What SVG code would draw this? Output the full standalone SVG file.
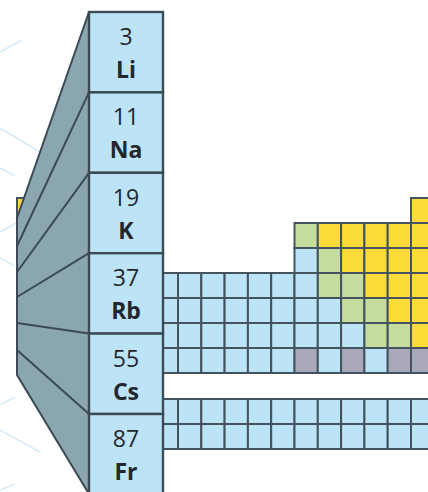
<svg xmlns="http://www.w3.org/2000/svg" width="428" height="492" viewBox="0 0 428 492">
<style>
.bg{stroke:#d8ecf8;stroke-width:1.6;fill:none}
.b{fill:#bde3f7;stroke:#44545e;stroke-width:2}
.g{fill:#c6dc9c;stroke:#44545e;stroke-width:2}
.y{fill:#fddc3a;stroke:#44545e;stroke-width:2}
.k{fill:#a9a8b8;stroke:#44545e;stroke-width:2}
.cell{fill:#bde3f7;stroke:#3b4a55;stroke-width:2.4}
.fan{fill:#8aa6b0;stroke:#3b4a55;stroke-width:2;stroke-linejoin:round}
.ln{stroke:#3b4a55;stroke-width:2;fill:none}
.num{font-family:"Open Sans","Noto Sans",sans-serif;font-size:23px;fill:#22272b;text-anchor:middle}
.sym{font-family:"Open Sans","Noto Sans",sans-serif;font-size:23px;font-weight:bold;fill:#22272b;text-anchor:middle}
</style>
<rect width="428" height="492" fill="#ffffff"/>
<g id="background">
<path class="bg" d="M0,52 L22,40 M0,128 L40,152 M0,168 L15,176 M0,232 L22,220 M0,258 L15,266 M0,405 L15,397 M0,430 L40,452 M0,490 L15,484"/>
</g>
<g id="table">
<rect class="y" x="411" y="198" width="23.3" height="25"/>
<rect class="g" x="294.5" y="223" width="23.3" height="25"/>
<rect class="y" x="317.8" y="223" width="23.3" height="25"/>
<rect class="y" x="341.1" y="223" width="23.3" height="25"/>
<rect class="y" x="364.4" y="223" width="23.3" height="25"/>
<rect class="y" x="387.7" y="223" width="23.3" height="25"/>
<rect class="y" x="411" y="223" width="23.3" height="25"/>
<rect class="b" x="294.5" y="248" width="23.3" height="25"/>
<rect class="g" x="317.8" y="248" width="23.3" height="25"/>
<rect class="y" x="341.1" y="248" width="23.3" height="25"/>
<rect class="y" x="364.4" y="248" width="23.3" height="25"/>
<rect class="y" x="387.7" y="248" width="23.3" height="25"/>
<rect class="y" x="411" y="248" width="23.3" height="25"/>
<rect class="b" x="154.7" y="273" width="23.3" height="25"/>
<rect class="b" x="178" y="273" width="23.3" height="25"/>
<rect class="b" x="201.3" y="273" width="23.3" height="25"/>
<rect class="b" x="224.6" y="273" width="23.3" height="25"/>
<rect class="b" x="247.9" y="273" width="23.3" height="25"/>
<rect class="b" x="271.2" y="273" width="23.3" height="25"/>
<rect class="b" x="294.5" y="273" width="23.3" height="25"/>
<rect class="g" x="317.8" y="273" width="23.3" height="25"/>
<rect class="g" x="341.1" y="273" width="23.3" height="25"/>
<rect class="y" x="364.4" y="273" width="23.3" height="25"/>
<rect class="y" x="387.7" y="273" width="23.3" height="25"/>
<rect class="y" x="411" y="273" width="23.3" height="25"/>
<rect class="b" x="154.7" y="298" width="23.3" height="25"/>
<rect class="b" x="178" y="298" width="23.3" height="25"/>
<rect class="b" x="201.3" y="298" width="23.3" height="25"/>
<rect class="b" x="224.6" y="298" width="23.3" height="25"/>
<rect class="b" x="247.9" y="298" width="23.3" height="25"/>
<rect class="b" x="271.2" y="298" width="23.3" height="25"/>
<rect class="b" x="294.5" y="298" width="23.3" height="25"/>
<rect class="b" x="317.8" y="298" width="23.3" height="25"/>
<rect class="g" x="341.1" y="298" width="23.3" height="25"/>
<rect class="g" x="364.4" y="298" width="23.3" height="25"/>
<rect class="y" x="387.7" y="298" width="23.3" height="25"/>
<rect class="y" x="411" y="298" width="23.3" height="25"/>
<rect class="b" x="154.7" y="323" width="23.3" height="25"/>
<rect class="b" x="178" y="323" width="23.3" height="25"/>
<rect class="b" x="201.3" y="323" width="23.3" height="25"/>
<rect class="b" x="224.6" y="323" width="23.3" height="25"/>
<rect class="b" x="247.9" y="323" width="23.3" height="25"/>
<rect class="b" x="271.2" y="323" width="23.3" height="25"/>
<rect class="b" x="294.5" y="323" width="23.3" height="25"/>
<rect class="b" x="317.8" y="323" width="23.3" height="25"/>
<rect class="b" x="341.1" y="323" width="23.3" height="25"/>
<rect class="g" x="364.4" y="323" width="23.3" height="25"/>
<rect class="g" x="387.7" y="323" width="23.3" height="25"/>
<rect class="y" x="411" y="323" width="23.3" height="25"/>
<rect class="b" x="154.7" y="348" width="23.3" height="25"/>
<rect class="b" x="178" y="348" width="23.3" height="25"/>
<rect class="b" x="201.3" y="348" width="23.3" height="25"/>
<rect class="b" x="224.6" y="348" width="23.3" height="25"/>
<rect class="b" x="247.9" y="348" width="23.3" height="25"/>
<rect class="b" x="271.2" y="348" width="23.3" height="25"/>
<rect class="k" x="294.5" y="348" width="23.3" height="25"/>
<rect class="b" x="317.8" y="348" width="23.3" height="25"/>
<rect class="k" x="341.1" y="348" width="23.3" height="25"/>
<rect class="b" x="364.4" y="348" width="23.3" height="25"/>
<rect class="k" x="387.7" y="348" width="23.3" height="25"/>
<rect class="k" x="411" y="348" width="23.3" height="25"/>
<rect class="b" x="154.7" y="399" width="23.3" height="25"/>
<rect class="b" x="178" y="399" width="23.3" height="25"/>
<rect class="b" x="201.3" y="399" width="23.3" height="25"/>
<rect class="b" x="224.6" y="399" width="23.3" height="25"/>
<rect class="b" x="247.9" y="399" width="23.3" height="25"/>
<rect class="b" x="271.2" y="399" width="23.3" height="25"/>
<rect class="b" x="294.5" y="399" width="23.3" height="25"/>
<rect class="b" x="317.8" y="399" width="23.3" height="25"/>
<rect class="b" x="341.1" y="399" width="23.3" height="25"/>
<rect class="b" x="364.4" y="399" width="23.3" height="25"/>
<rect class="b" x="387.7" y="399" width="23.3" height="25"/>
<rect class="b" x="411" y="399" width="23.3" height="25"/>
<rect class="b" x="154.7" y="424" width="23.3" height="25"/>
<rect class="b" x="178" y="424" width="23.3" height="25"/>
<rect class="b" x="201.3" y="424" width="23.3" height="25"/>
<rect class="b" x="224.6" y="424" width="23.3" height="25"/>
<rect class="b" x="247.9" y="424" width="23.3" height="25"/>
<rect class="b" x="271.2" y="424" width="23.3" height="25"/>
<rect class="b" x="294.5" y="424" width="23.3" height="25"/>
<rect class="b" x="317.8" y="424" width="23.3" height="25"/>
<rect class="b" x="341.1" y="424" width="23.3" height="25"/>
<rect class="b" x="364.4" y="424" width="23.3" height="25"/>
<rect class="b" x="387.7" y="424" width="23.3" height="25"/>
<rect class="b" x="411" y="424" width="23.3" height="25"/>
<rect class="y" x="17" y="198" width="23.3" height="25"/>
</g>
<g id="fan">
<polygon class="fan" points="89,12 17,218 17,375 89,494"/>
</g>
<g id="connectors">
<path class="ln" d="M89,92.4 L17,246 M89,172.8 L17,272 M89,253.2 L17,297 M89,333.6 L17,323 M89,414 L17,350"/>
</g>
<g id="Li"><rect class="cell" x="89" y="12" width="74" height="80.4"/><text class="num" x="126" y="45">3</text><text class="sym" x="126" y="78">Li</text></g>
<g id="Na"><rect class="cell" x="89" y="92.4" width="74" height="80.4"/><text class="num" x="126" y="125.4">11</text><text class="sym" x="126" y="158.4">Na</text></g>
<g id="K"><rect class="cell" x="89" y="172.8" width="74" height="80.4"/><text class="num" x="126" y="205.8">19</text><text class="sym" x="126" y="238.8">K</text></g>
<g id="Rb"><rect class="cell" x="89" y="253.2" width="74" height="80.4"/><text class="num" x="126" y="286.2">37</text><text class="sym" x="126" y="319.2">Rb</text></g>
<g id="Cs"><rect class="cell" x="89" y="333.6" width="74" height="80.4"/><text class="num" x="126" y="366.6">55</text><text class="sym" x="126" y="399.6">Cs</text></g>
<g id="Fr"><rect class="cell" x="89" y="414" width="74" height="82"/><text class="num" x="126" y="447">87</text><text class="sym" x="126" y="480">Fr</text></g>
</svg>
